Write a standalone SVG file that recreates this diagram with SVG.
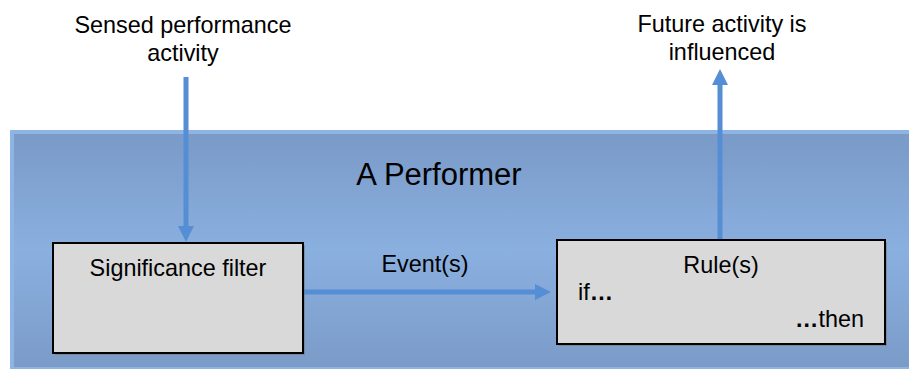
<svg xmlns="http://www.w3.org/2000/svg" width="910" height="371" viewBox="0 0 910 371">
  <style>
    text { font-family: "Liberation Sans", Arial, sans-serif; fill: #000; }
    .lbl { font-size: 23.4px; }
    .title { font-size: 31px; }
    .box { fill: #d9d9d9; stroke: #000; stroke-width: 2; }
    .shadow { fill: #6f6f6f; opacity: 0.5; }
    .conn { stroke: #558ed5; stroke-width: 5; fill: none; }
  </style>
  <defs>
    <linearGradient id="panelFill" x1="0" y1="0" x2="0" y2="1">
      <stop offset="0" stop-color="#7a9ac7"/>
      <stop offset="0.5" stop-color="#8ab0e0"/>
      <stop offset="1" stop-color="#7b9bc8"/>
    </linearGradient>
    <marker id="head" markerWidth="3.2" markerHeight="3.2" refX="0.2" refY="1.6" orient="auto" markerUnits="strokeWidth">
      <path d="M0,0 L3.2,1.6 L0,3.2 Z" fill="#558ed5"/>
    </marker>
  </defs>

  <!-- performer panel -->
  <g id="performer">
    <rect x="10" y="130" width="899" height="239" fill="#8db4e2"/>
    <rect x="14" y="134" width="895" height="233" fill="url(#panelFill)"/>
    <text class="title" x="439" y="185" text-anchor="middle">A Performer</text>
  </g>

  <!-- external labels -->
  <g id="input-label">
    <text class="lbl" x="183" y="33" text-anchor="middle">Sensed performance</text>
    <text class="lbl" x="183" y="61" text-anchor="middle">activity</text>
  </g>
  <g id="output-label">
    <text class="lbl" x="722" y="32" text-anchor="middle">Future activity is</text>
    <text class="lbl" x="722" y="60" text-anchor="middle">influenced</text>
  </g>

  <!-- connectors -->
  <g id="connectors">
    <line class="conn" x1="186" y1="77" x2="186" y2="227" marker-end="url(#head)"/>
    <line class="conn" x1="720" y1="240" x2="720" y2="84" marker-end="url(#head)"/>
    <line class="conn" x1="303" y1="292" x2="536" y2="292" marker-end="url(#head)"/>
    <text class="lbl" x="425" y="272" text-anchor="middle">Event(s)</text>
  </g>

  <!-- significance filter -->
  <g id="filter">
    <rect class="shadow" x="55" y="245" width="250" height="110"/>
    <rect class="box" x="53" y="243" width="250" height="110"/>
    <text class="lbl" x="178" y="276" text-anchor="middle">Significance filter</text>
  </g>

  <!-- rules -->
  <g id="rules">
    <rect class="shadow" x="559" y="242" width="328" height="104"/>
    <rect class="box" x="557" y="240" width="328" height="104"/>
    <text class="lbl" x="721" y="273" text-anchor="middle">Rule(s)</text>
    <text class="lbl" x="578" y="300">if<tspan font-weight="bold">…</tspan></text>
    <text class="lbl" x="864" y="327" text-anchor="end"><tspan font-weight="bold">…</tspan>then</text>
  </g>
</svg>
